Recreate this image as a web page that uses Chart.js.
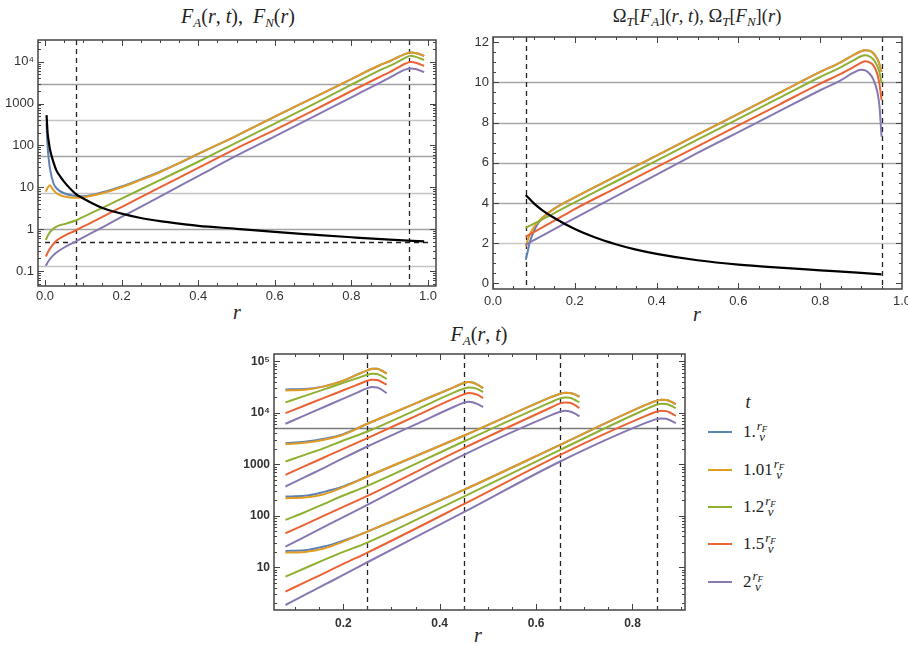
<!DOCTYPE html>
<html>
<head>
<meta charset="utf-8">
<script src="https://cdn.jsdelivr.net/npm/chart.js@4.4.1/dist/chart.umd.min.js"></script>
<style>
  html, body { margin: 0; padding: 0; background: #fff; width: 908px; height: 646px; overflow: hidden; }
  canvas { position: absolute; }
  .ttl { position: absolute; transform: translateX(-50%); white-space: nowrap; font-family: "Liberation Serif", "DejaVu Serif", serif; font-size: 20px; line-height: 24px; color: #222; }
  .ttl sub { font-size: 13px; vertical-align: -4px; line-height: 0; }
  .rlab { position: absolute; transform: translateX(-50%); font-family: "Liberation Serif", serif; font-style: italic; font-size: 20px; line-height: 20px; color: #222; }
  .li { position: absolute; left: 708px; height: 30px; display: flex; align-items: center; }
  .sw { width: 24px; height: 2px; margin-right: 11px; }
  .lt { font-family: "Liberation Serif", serif; font-size: 17px; color: #222; }
  .fr { display: inline-flex; flex-direction: column; align-items: center; font-family: "Liberation Serif", serif; font-style: italic; font-size: 13px; line-height: 11px; margin-left: 1px; margin-top: -2px; color: #222; }
  .fr sub { font-size: 9px; vertical-align: -2px; line-height: 0; }
</style>
</head>
<body>
<div class="ttl" style="left:238px;top:4px"><i>F</i><sub><i>A</i></sub>(<i>r</i>, <i>t</i>), &nbsp;<i>F</i><sub><i>N</i></sub>(<i>r</i>)</div>
<div class="ttl" style="left:697px;top:4px;font-size:18.5px">Ω<sub><i>T</i></sub>[<i>F</i><sub><i>A</i></sub>](<i>r</i>, <i>t</i>), Ω<sub><i>T</i></sub>[<i>F</i><sub><i>N</i></sub>](<i>r</i>)</div>
<div class="ttl" style="left:479px;top:322px"><i>F</i><sub><i>A</i></sub>(<i>r</i>, <i>t</i>)</div>
<div class="rlab" style="left:237px;top:302px">r</div>
<div class="rlab" style="left:697px;top:304px">r</div>
<div class="rlab" style="left:478px;top:625px">r</div>

<canvas id="c1" width="452" height="282" style="left:0;top:30px"></canvas>
<canvas id="c2" width="465" height="285" style="left:455px;top:26px"></canvas>
<canvas id="c3" width="470" height="302" style="left:230px;top:344px"></canvas>

<div id="legend"></div>

<script>
// ---- panel 1: F_A(r,t) for five times, F_N(r) ----
const P1_R_BLUE = [0.004, 0.007, 0.01, 0.013, 0.022, 0.03, 0.05, 0.08, 0.1, 0.15, 0.2, 0.25, 0.3, 0.35, 0.4, 0.5, 0.6, 0.7, 0.8, 0.875, 0.9, 0.92, 0.94, 0.955, 0.97, 0.99];
const P1_BLUE = [340, 90, 45, 28, 12.5, 9.5, 7.2, 6.2, 6.1, 7.6, 10.5, 15.5, 23.5, 37.6, 62.7, 170, 485, 1365, 3840, 8320, 10230, 12590, 15140, 16600, 15850, 13800];
const P1_R_ORANGE = [0.002, 0.007, 0.013, 0.02, 0.03, 0.05, 0.08, 0.1, 0.15, 0.2, 0.25, 0.3, 0.35, 0.4, 0.5, 0.6, 0.7, 0.8, 0.875, 0.9, 0.92, 0.94, 0.955, 0.97, 0.99];
const P1_ORANGE = [7.9, 9.8, 11.2, 9.0, 7.2, 6.0, 5.6, 5.8, 7.2, 10, 15, 22.9, 37.6, 62.7, 170, 485, 1365, 3840, 8320, 10230, 12590, 15140, 16600, 15850, 13800];
const P1_R_LOWER = [0.002, 0.01, 0.02, 0.03, 0.05, 0.08, 0.1, 0.15, 0.2, 0.3, 0.4, 0.5, 0.6, 0.7, 0.8, 0.875, 0.9, 0.92, 0.94, 0.955, 0.97, 0.99];
const P1_GREEN = [0.556, 0.776, 1.0, 1.156, 1.318, 1.607, 1.968, 3.24, 5.37, 14.8, 40.7, 117, 331, 955, 2818, 6310, 7940, 9770, 12300, 13800, 12880, 10960];
const P1_RED = [0.222, 0.31, 0.42, 0.53, 0.69, 0.93, 1.16, 1.97, 3.38, 10, 29, 85.5, 234, 676, 1995, 4365, 5620, 7080, 8910, 9770, 9330, 7940];
const P1_PURPLE = [0.133, 0.178, 0.23, 0.277, 0.365, 0.507, 0.636, 1.11, 1.96, 6.0, 18.5, 56.9, 164, 479, 1413, 3162, 4170, 5250, 6460, 6920, 6610, 5620];
const P1_R_N = [0.004, 0.007, 0.01, 0.013, 0.022, 0.03, 0.04, 0.05, 0.08, 0.1, 0.15, 0.2, 0.25, 0.3, 0.35, 0.4, 0.5, 0.6, 0.7, 0.8, 0.9, 0.99];
const P1_N = [530, 190, 120, 80, 40, 25, 18, 13.5, 7.0, 5.4, 3.2, 2.35, 1.85, 1.55, 1.35, 1.2, 1.02, 0.86, 0.74, 0.64, 0.56, 0.51];
const P1_GRID_Y = [0.135, 1, 7.39, 54.6, 403, 2981];
const P1_Y_TICKS = [0.1, 1, 10, 100, 1000, 10000];
const P1_X_TICKS = [0, 0.2, 0.4, 0.6, 0.8, 1.0];

// ---- panel 2: Omega_T ----
const P2_R_TOP = [0.08, 0.085, 0.09, 0.1, 0.11, 0.125, 0.15, 0.2, 0.3, 0.4, 0.5, 0.6, 0.7, 0.8, 0.85, 0.88, 0.9, 0.91, 0.92, 0.93, 0.94, 0.945, 0.95];
const P2_BLUE = [1.18, 1.6, 2.05, 2.6, 2.98, 3.33, 3.72, 4.28, 5.32, 6.36, 7.4, 8.44, 9.48, 10.52, 11.0, 11.35, 11.55, 11.6, 11.58, 11.45, 11.15, 10.9, 10.53];
const P2_ORANGE = [1.84, 2.15, 2.42, 2.8, 3.05, 3.35, 3.72, 4.28, 5.32, 6.36, 7.4, 8.44, 9.48, 10.52, 11.0, 11.35, 11.55, 11.6, 11.58, 11.45, 11.15, 10.9, 10.53];
const P2_R_LOWER = [0.08, 0.1, 0.15, 0.2, 0.3, 0.4, 0.5, 0.6, 0.7, 0.8, 0.85, 0.88, 0.9, 0.91, 0.92, 0.93, 0.94, 0.945, 0.95];
const P2_GREEN = [2.77, 2.97, 3.5, 4.03, 5.07, 6.11, 7.15, 8.19, 9.23, 10.27, 10.75, 11.08, 11.3, 11.35, 11.3, 11.15, 10.8, 10.5, 9.98];
const P2_RED = [2.33, 2.55, 3.12, 3.7, 4.74, 5.78, 6.82, 7.86, 8.9, 9.94, 10.42, 10.75, 10.98, 11.05, 11.0, 10.85, 10.4, 9.9, 9.12];
const P2_PURPLE = [1.92, 2.15, 2.7, 3.25, 4.33, 5.41, 6.49, 7.53, 8.57, 9.61, 10.1, 10.47, 10.63, 10.6, 10.45, 10.15, 9.5, 8.8, 7.3];
const P2_R_N = [0.08, 0.1, 0.12, 0.15, 0.2, 0.25, 0.3, 0.35, 0.4, 0.5, 0.6, 0.7, 0.8, 0.9, 0.95];
const P2_N = [4.4, 3.98, 3.65, 3.25, 2.7, 2.28, 1.95, 1.68, 1.47, 1.15, 0.93, 0.78, 0.65, 0.52, 0.45];
const P2_GRID_Y = [2, 4, 6, 8, 10];
const P2_Y_TICKS = [0, 2, 4, 6, 8, 10, 12];
const P2_X_TICKS = [0, 0.2, 0.4, 0.6, 0.8, 1.0];

// ---- panel 3: F_A(r,t) for r_F = 0.25, 0.45, 0.65, 0.85 ----
const P3_R1 = [0.08, 0.12, 0.16, 0.2, 0.23, 0.25, 0.26, 0.27, 0.28, 0.29];
const P3_G1_BLUE = [28600, 29000, 32700, 42100, 56000, 67000, 72200, 72200, 65900, 57700];
const P3_G1_ORANGE = [27300, 28100, 32700, 42100, 56000, 67000, 72200, 72200, 65900, 57700];
const P3_G1_GREEN = [15960, 21400, 28600, 38200, 47600, 55100, 57600, 56800, 51900, 45400];
const P3_G1_RED = [9900, 13900, 19600, 27500, 35500, 42100, 44100, 43400, 39700, 35200];
const P3_G1_PURPLE = [6140, 8930, 13000, 18900, 25100, 30300, 31700, 31200, 28100, 24200];

const P3_R2 = [0.08, 0.12, 0.16, 0.2, 0.25, 0.35, 0.43, 0.45, 0.46, 0.47, 0.48, 0.49];
const P3_G2_BLUE = [2581, 2740, 3134, 3864, 6138, 15260, 31720, 37940, 39670, 38510, 34690, 30320];
const P3_G2_ORANGE = [2468, 2620, 2998, 3749, 6138, 15260, 31720, 37940, 39670, 38510, 34690, 30320];
const P3_G2_GREEN = [1135, 1530, 2063, 2909, 4353, 11320, 24970, 29430, 31240, 30780, 28570, 25350];
const P3_G2_RED = [625, 921, 1358, 2002, 3229, 8650, 19090, 22840, 24240, 23880, 22160, 19380];
const P3_G2_PURPLE = [370.6, 563, 855, 1318, 2223, 5957, 13140, 15720, 16440, 15960, 14590, 12950];

const P3_R3 = [0.08, 0.12, 0.16, 0.2, 0.25, 0.45, 0.63, 0.65, 0.66, 0.67, 0.68, 0.69];
const P3_G3_BLUE = [236.7, 243.9, 291.7, 370.6, 579.9, 3585, 19960, 23530, 24600, 24240, 22840, 20570];
const P3_G3_ORANGE = [219.7, 226.4, 262.8, 359.6, 579.9, 3585, 19960, 23530, 24600, 24240, 22840, 20570];
const P3_G3_GREEN = [83.2, 117.3, 170.4, 247.5, 381.6, 2781, 15960, 19090, 19960, 19670, 17980, 15960];
const P3_G3_RED = [45.8, 67.5, 101.1, 149, 243.9, 2063, 12570, 15260, 15960, 15720, 14370, 12380];
const P3_G3_PURPLE = [25.2, 38.9, 60.8, 93.8, 163, 1530, 8915, 10500, 10990, 10660, 9750, 8523];

const P3_R4 = [0.08, 0.12, 0.16, 0.2, 0.25, 0.45, 0.65, 0.83, 0.85, 0.86, 0.87, 0.88, 0.89];
const P3_G4_BLUE = [20.76, 21.38, 25.2, 32.97, 49.35, 319, 2395, 14590, 17190, 17980, 17720, 16440, 14810];
const P3_G4_ORANGE = [19.26, 19.85, 23.04, 31.52, 49.35, 319, 2395, 14590, 17190, 17980, 17720, 16440, 14810];
const P3_G4_GREEN = [6.574, 9.55, 13.87, 19.85, 30.15, 236.7, 1915, 12020, 14370, 15030, 14810, 13750, 12380];
const P3_G4_RED = [3.357, 5.1, 7.63, 11.6, 19.26, 167.9, 1530, 8915, 10500, 10990, 10820, 9895, 8782];
const P3_G4_PURPLE = [1.847, 2.89, 4.53, 7.08, 12.5, 117.3, 1135, 6515, 7562, 7792, 7677, 7020, 6324];

const P3_GRID_Y = [5000];
const P3_DASH_X = [0.25, 0.45, 0.65, 0.85];
const P3_Y_TICKS = [10, 100, 1000, 10000, 100000];
const P3_X_TICKS = [0.2, 0.4, 0.6, 0.8];

const COLORS = ['#5E81B5', '#E19C24', '#8FB032', '#EB6235', '#8778B3'];
const T_LABELS = ['1.', '1.01', '1.2', '1.5', '2'];

function pts(rs, vs) {
  return rs.map((r, i) => ({ x: r, y: vs[i] }));
}

function curve(data, color, order, width) {
  return {
    data: data,
    borderColor: color,
    borderWidth: width || 2,
    pointRadius: 0,
    fill: false,
    cubicInterpolationMode: 'monotone',
    order: order
  };
}

function linSteps(a, b, step) {
  const out = [];
  for (let v = a; v <= b + 1e-9; v += step) out.push(+v.toFixed(6));
  return out;
}

function logMinor(lo, hi) {
  const out = [];
  for (let e = lo; e <= hi; e++) {
    for (let k = 1; k < 10; k++) out.push(k * Math.pow(10, e));
  }
  return out;
}

function logLabel(v) {
  if (v >= 10000) return '10' + (v >= 100000 ? '⁵' : '⁴');
  return String(v);
}

// gridlines, dashed markers, frame and inward ticks
const decor = {
  id: 'decor',
  beforeDatasetsDraw(chart, args, o) {
    const { ctx, chartArea: a, scales: { x, y } } = chart;
    ctx.save();
    ctx.beginPath();
    ctx.rect(a.left, a.top, a.right - a.left, a.bottom - a.top);
    ctx.clip();
    (o.gridY || []).forEach((v, i) => {
      const py = Math.round(y.getPixelForValue(v)) + 0.5;
      ctx.strokeStyle = o.gridColors[i % o.gridColors.length];
      ctx.lineWidth = 1.4;
      ctx.beginPath();
      ctx.moveTo(a.left, py);
      ctx.lineTo(a.right, py);
      ctx.stroke();
    });
    ctx.setLineDash([5, 4]);
    ctx.strokeStyle = '#222';
    ctx.lineWidth = 1.3;
    (o.dashX || []).forEach(v => {
      const px = Math.round(x.getPixelForValue(v)) + 0.5;
      ctx.beginPath();
      ctx.moveTo(px, a.top);
      ctx.lineTo(px, a.bottom);
      ctx.stroke();
    });
    (o.dashY || []).forEach(d => {
      const py = Math.round(y.getPixelForValue(d.y)) + 0.5;
      ctx.beginPath();
      ctx.moveTo(x.getPixelForValue(d.from), py);
      ctx.lineTo(x.getPixelForValue(d.to), py);
      ctx.stroke();
    });
    ctx.restore();
  },
  afterDraw(chart, args, o) {
    const { ctx, chartArea: a, scales: { x, y } } = chart;
    ctx.save();
    ctx.strokeStyle = '#444';
    ctx.lineWidth = 1;
    const marks = [[o.xMinor, 3], [o.xMajor, 6]];
    marks.forEach(([vals, len]) => vals.forEach(v => {
      const px = Math.round(x.getPixelForValue(v)) + 0.5;
      if (px < a.left || px > a.right) return;
      ctx.beginPath();
      ctx.moveTo(px, a.bottom); ctx.lineTo(px, a.bottom - len);
      ctx.moveTo(px, a.top); ctx.lineTo(px, a.top + len);
      ctx.stroke();
    }));
    [[o.yMinor, 3], [o.yMajor, 6]].forEach(([vals, len]) => vals.forEach(v => {
      const py = Math.round(y.getPixelForValue(v)) + 0.5;
      if (py < a.top || py > a.bottom) return;
      ctx.beginPath();
      ctx.moveTo(a.left, py); ctx.lineTo(a.left + len, py);
      ctx.moveTo(a.right, py); ctx.lineTo(a.right - len, py);
      ctx.stroke();
    }));
    ctx.lineWidth = 1.5;
    ctx.strokeStyle = '#444';
    ctx.strokeRect(a.left, a.top, a.right - a.left, a.bottom - a.top);
    ctx.restore();
  }
};

function fixedAxis(size, horizontal) {
  return s => {
    if (horizontal) s.height = size; else s.width = size;
    s.paddingLeft = 0; s.paddingRight = 0; s.paddingTop = 0; s.paddingBottom = 0;
  };
}

function baseOptions(cfg) {
  return {
    responsive: false,
    animation: false,
    layout: { padding: cfg.padding },
    plugins: { legend: { display: false }, tooltip: { enabled: false }, decor: cfg.decor },
    scales: {
      x: {
        type: 'linear',
        min: cfg.xMin, max: cfg.xMax,
        grid: { display: false, drawTicks: false }, border: { display: false },
        afterBuildTicks: s => { s.ticks = cfg.xTicks.map(v => ({ value: v })); },
        afterFit: fixedAxis(cfg.xHeight, true),
        ticks: { font: cfg.font, color: '#333', padding: cfg.xPad, maxRotation: 0, autoSkip: false,
                 callback: v => cfg.xFmt(v) }
      },
      y: {
        type: cfg.yType,
        min: cfg.yMin, max: cfg.yMax,
        grid: { display: false, drawTicks: false }, border: { display: false },
        afterBuildTicks: s => { s.ticks = cfg.yTicks.map(v => ({ value: v })); },
        afterFit: fixedAxis(cfg.yWidth, false),
        ticks: { font: cfg.font, color: '#333', padding: cfg.yPad, autoSkip: false,
                 callback: v => cfg.yFmt(v) }
      }
    }
  };
}

const plainFont = { family: 'Liberation Sans, Arial, sans-serif', size: 13 };
const boldFont = { family: 'Liberation Sans, Arial, sans-serif', size: 12, weight: 'bold' };

// panel 1
new Chart(document.getElementById('c1'), {
  type: 'line',
  data: {
    datasets: [
      curve(pts(P1_R_BLUE, P1_BLUE), COLORS[0], 5),
      curve(pts(P1_R_ORANGE, P1_ORANGE), COLORS[1], 4),
      curve(pts(P1_R_LOWER, P1_GREEN), COLORS[2], 3),
      curve(pts(P1_R_LOWER, P1_RED), COLORS[3], 2),
      curve(pts(P1_R_LOWER, P1_PURPLE), COLORS[4], 1),
      curve(pts(P1_R_N, P1_N), '#000', 0, 2.2)
    ]
  },
  options: baseOptions({
    padding: { top: 10, right: 16, left: 0, bottom: 0 },
    xMin: -0.0183, xMax: 1.0209, xTicks: P1_X_TICKS, xHeight: 26, xPad: 3,
    xFmt: v => v.toFixed(1),
    yType: 'logarithmic', yMin: 0.0439, yMax: 32960, yTicks: P1_Y_TICKS, yWidth: 38, yPad: 4,
    yFmt: logLabel,
    font: plainFont,
    decor: {
      gridY: P1_GRID_Y, gridColors: ['#c4c4c4', '#a2a2a2'],
      dashX: [0.08, 0.95], dashY: [{ y: 0.5, from: 0, to: 1.0 }],
      xMajor: P1_X_TICKS, xMinor: linSteps(0, 1, 0.05),
      yMajor: P1_Y_TICKS, yMinor: logMinor(-2, 4)
    }
  }),
  plugins: [decor]
});

// panel 2
new Chart(document.getElementById('c2'), {
  type: 'line',
  data: {
    datasets: [
      curve(pts(P2_R_TOP, P2_BLUE), COLORS[0], 5),
      curve(pts(P2_R_TOP, P2_ORANGE), COLORS[1], 4),
      curve(pts(P2_R_LOWER, P2_GREEN), COLORS[2], 3),
      curve(pts(P2_R_LOWER, P2_RED), COLORS[3], 2),
      curve(pts(P2_R_LOWER, P2_PURPLE), COLORS[4], 1),
      curve(pts(P2_R_N, P2_N), '#000', 0, 2.2)
    ]
  },
  options: baseOptions({
    padding: { top: 11, right: 18, left: 0, bottom: 0 },
    xMin: 0, xMax: 1.0, xTicks: P2_X_TICKS, xHeight: 22, xPad: 5,
    xFmt: v => v.toFixed(1),
    yType: 'linear', yMin: -0.28, yMax: 12.26, yTicks: P2_Y_TICKS, yWidth: 38, yPad: 4,
    yFmt: v => String(v),
    font: plainFont,
    decor: {
      gridY: P2_GRID_Y, gridColors: ['#c8c8c8', '#a6a6a6', '#a6a6a6', '#a6a6a6', '#a6a6a6'],
      dashX: [0.08, 0.95],
      xMajor: P2_X_TICKS, xMinor: linSteps(0, 1, 0.05),
      yMajor: P2_Y_TICKS, yMinor: linSteps(0, 12, 0.5)
    }
  }),
  plugins: [decor]
});

// panel 3
const P3_GROUPS = [
  [P3_R1, [P3_G1_BLUE, P3_G1_ORANGE, P3_G1_GREEN, P3_G1_RED, P3_G1_PURPLE]],
  [P3_R2, [P3_G2_BLUE, P3_G2_ORANGE, P3_G2_GREEN, P3_G2_RED, P3_G2_PURPLE]],
  [P3_R3, [P3_G3_BLUE, P3_G3_ORANGE, P3_G3_GREEN, P3_G3_RED, P3_G3_PURPLE]],
  [P3_R4, [P3_G4_BLUE, P3_G4_ORANGE, P3_G4_GREEN, P3_G4_RED, P3_G4_PURPLE]]
];
const p3Sets = [];
P3_GROUPS.forEach(([rs, series]) => {
  series.forEach((vals, i) => p3Sets.push(curve(pts(rs, vals), COLORS[i], 5 - i)));
});

new Chart(document.getElementById('c3'), {
  type: 'line',
  data: { datasets: p3Sets },
  options: baseOptions({
    padding: { top: 10, right: 15, left: 0, bottom: 0 },
    xMin: 0.0562, xMax: 0.909, xTicks: P3_X_TICKS, xHeight: 36, xPad: 6,
    xFmt: v => v.toFixed(1),
    yType: 'logarithmic', yMin: 1.476, yMax: 139300, yTicks: P3_Y_TICKS, yWidth: 44, yPad: 4,
    yFmt: logLabel,
    font: boldFont,
    decor: {
      gridY: P3_GRID_Y, gridColors: ['#7a7a7a'],
      dashX: P3_DASH_X,
      xMajor: P3_X_TICKS, xMinor: linSteps(0.05, 0.9, 0.05),
      yMajor: P3_Y_TICKS, yMinor: logMinor(0, 5)
    }
  }),
  plugins: [decor]
});

// legend for t
const legend = document.getElementById('legend');
let html = '<div class="rlab" style="left:748px;top:392px;font-size:18px">t</div>';
const LEG_Y = [432, 470, 507, 544, 582];
T_LABELS.forEach((lab, i) => {
  html += '<div class="li" style="top:' + (LEG_Y[i] - 15) + 'px">' +
    '<span class="sw" style="background:' + COLORS[i] + '"></span>' +
    '<span class="lt">' + lab + '</span>' +
    '<span class="fr"><span><i>r</i><sub>F</sub></span><span><i>v</i></span></span></div>';
});
legend.innerHTML = html;
</script>
</body>
</html>
